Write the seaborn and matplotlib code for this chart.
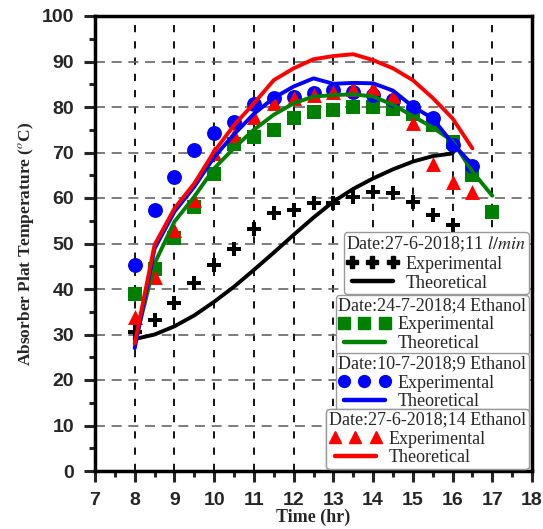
import matplotlib
matplotlib.use("Agg")
import matplotlib.pyplot as plt
import seaborn as sns
from matplotlib.lines import Line2D
from matplotlib.ticker import MultipleLocator

# flow 11 l/min, 27-6-2018
black_exp_hr = [8, 8.5, 9, 9.5, 10, 10.5, 11, 11.5, 12, 12.5, 13, 13.5, 14, 14.5, 15, 15.5, 16]
black_exp = [30.5, 33.2, 36.9, 41.3, 45.3, 48.9, 53.2, 56.6, 57.4, 58.8, 58.8, 60.3, 61.4, 61.2, 59.2, 56.3, 54.1]
black_th_hr = [8, 8.5, 9, 9.5, 10, 10.5, 11, 11.5, 12, 12.5, 13, 13.5, 14, 14.5, 15, 15.5, 16]
black_th = [29.0, 30.0, 31.8, 34.2, 37.2, 40.5, 44.2, 48.0, 51.9, 55.7, 59.2, 62.0, 64.3, 66.3, 68.0, 69.2, 69.8]

# 4 ethanol, 24-7-2018
green_exp_hr = [8, 8.5, 9, 9.5, 10, 10.5, 11, 11.5, 12, 12.5, 13, 13.5, 14, 14.5, 15, 15.5, 16, 16.5, 17]
green_exp = [39.0, 44.5, 51.1, 58.1, 65.2, 71.8, 73.5, 74.9, 77.5, 79.0, 79.3, 79.9, 80.1, 79.5, 78.5, 76.0, 72.3, 65.0, 57.0]
green_th_hr = [8, 8.5, 9, 9.5, 10, 10.5, 11, 11.5, 12, 12.5, 13, 13.5, 14, 14.5, 15, 15.5, 16, 16.5, 17]
green_th = [28.0, 45.6, 54.8, 60.3, 66.5, 71.0, 75.0, 78.3, 80.8, 82.3, 82.6, 82.8, 82.3, 80.5, 78.0, 75.5, 72.5, 65.8, 60.5]

# 9 ethanol, 10-7-2018
blue_exp_hr = [8, 8.5, 9, 9.5, 10, 10.5, 11, 11.5, 12, 12.5, 13, 13.5, 14, 14.5, 15, 15.5, 16, 16.5]
blue_exp = [45.3, 57.4, 64.7, 70.5, 74.2, 76.8, 80.7, 81.9, 82.3, 83.1, 83.7, 83.4, 82.6, 81.5, 80.1, 77.5, 71.6, 67.1]
blue_th_hr = [8, 8.5, 9, 9.5, 10, 10.5, 11, 11.5, 12, 12.5, 13, 13.5, 14, 14.5, 15, 15.5, 16, 16.5]
blue_th = [27.0, 48.9, 57.0, 62.5, 69.0, 74.0, 78.5, 82.0, 84.5, 86.3, 85.1, 85.3, 85.2, 83.6, 80.1, 77.5, 72.0, 67.3]

# 14 ethanol, 27-6-2018
red_exp_hr = [8, 8.5, 9, 9.5, 10, 10.5, 11, 11.5, 12, 12.5, 13, 13.5, 14, 14.5, 15, 15.5, 16, 16.5]
red_exp = [33.9, 42.7, 53.0, 59.6, 69.8, 73.8, 77.7, 80.8, 81.9, 82.6, 83.4, 83.9, 84.1, 82.4, 76.4, 67.4, 63.6, 61.4]
red_th_hr = [8, 8.5, 9, 9.5, 10, 10.5, 11, 11.5, 12, 12.5, 13, 13.5, 14, 14.5, 15, 15.5, 16, 16.5]
red_th = [28.0, 49.7, 57.7, 63.2, 70.2, 76.0, 80.8, 85.9, 88.5, 90.5, 91.2, 91.6, 90.3, 88.5, 85.9, 82.0, 77.5, 70.9]

legend_titles = [
    "Date:27-6-2018;11 $\\mathit{l/min}$",
    "Date:24-7-2018;4 Ethanol",
    "Date:10-7-2018;9 Ethanol",
    "Date:27-6-2018;14 Ethanol",
]

sns.set_style("white")
plt.rcParams["font.family"] = ["Liberation Serif", "DejaVu Serif"]
plt.rcParams["mathtext.fontset"] = "stix"

fig = plt.figure(figsize=(5.43, 5.29), dpi=100)
ax = fig.add_axes([95 / 543, 58 / 529, 437 / 543, 455 / 529])

series = [
    ("black", "P", 110, black_exp_hr, black_exp, black_th_hr, black_th),
    ("#008000", "s", 95, green_exp_hr, green_exp, green_th_hr, green_th),
    ("#0000ff", "o", 115, blue_exp_hr, blue_exp, blue_th_hr, blue_th),
    ("#ff0000", "^", 115, red_exp_hr, red_exp, red_th_hr, red_th),
]

for color, marker, size, ex, ey, tx, ty in series:
    sns.scatterplot(x=ex, y=ey, ax=ax, color=color, marker=marker, s=size,
                    edgecolor=color, linewidth=0, zorder=3)
for color, marker, size, ex, ey, tx, ty in series:
    sns.lineplot(x=tx, y=ty, ax=ax, color=color, lw=2.8, zorder=4)

ax.set_xlim(7, 18)
ax.set_ylim(0, 100)
ax.xaxis.set_major_locator(MultipleLocator(1))
ax.xaxis.set_minor_locator(MultipleLocator(0.5))
ax.yaxis.set_major_locator(MultipleLocator(10))
ax.yaxis.set_minor_locator(MultipleLocator(5))
ax.tick_params(which="major", direction="out", length=8, width=2.2,
               labelsize=14, pad=7, bottom=True, left=True)
ax.tick_params(which="minor", direction="out", length=4, width=2.2,
               bottom=True, left=True)
for lab in ax.get_xticklabels() + ax.get_yticklabels():
    lab.set_fontfamily("Liberation Sans")
    lab.set_fontweight("bold")

ax.xaxis.grid(True, which="major", color="black", ls=(0, (4, 5)), lw=1.3)
ax.yaxis.grid(True, which="major", color="#666666", ls=(0, (6, 4)), lw=1.2)
ax.set_axisbelow(True)
for sp in ax.spines.values():
    sp.set_linewidth(2.5)
    sp.set_color("black")

ax.set_xlabel("Time (hr)", fontsize=13, fontweight="bold", labelpad=0)
ax.set_ylabel("Absorber Plat Temperature ($^o$C)", fontsize=12.5,
              fontweight="bold", labelpad=4)

tops = [0.525, 0.387, 0.259, 0.136]
for (color, marker, size, *_), title, top in zip(series, legend_titles, tops):
    handles = [
        Line2D([], [], color=color, marker=marker, ls="none", markersize=8.5),
        Line2D([], [], color=color, lw=3.2),
    ]
    leg = ax.legend(handles, ["Experimental", "Theoretical"], title=title,
                    loc="upper right", bbox_to_anchor=(0.993, top),
                    numpoints=3, fontsize=13, title_fontsize=13,
                    frameon=True, fancybox=True, edgecolor="#999999",
                    framealpha=1, borderpad=0.15, labelspacing=0.1,
                    handlelength=2.9, handletextpad=0.4, borderaxespad=0)
    leg.get_frame().set_linewidth(1.0)
    leg._legend_box.align = "left"
    ax.add_artist(leg)

fig.savefig("out.png", dpi=100)
